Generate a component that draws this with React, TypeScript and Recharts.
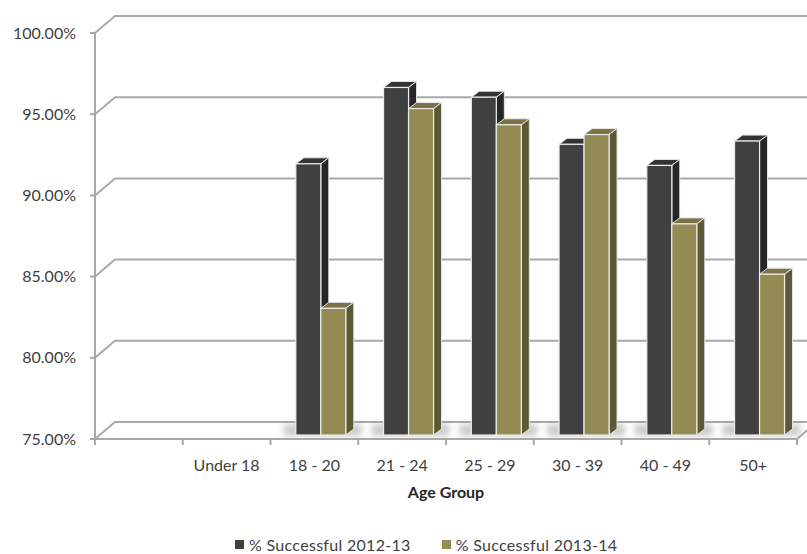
import React from "react"
import { BarChart, Bar, XAxis, YAxis, CartesianGrid } from "recharts"

// Age groups along the floor; the first slot is an empty spacer category
const categories = ["", "Under 18", "18 - 20", "21 - 24", "25 - 29", "30 - 39", "40 - 49", "50+"]
const success2012 = [null, null, 91.7, 96.4, 95.8, 92.9, 91.6, 93.1]
const success2013 = [null, null, 82.8, 95.1, 94.1, 93.5, 88.0, 84.9]
const yTicks = [75, 80, 85, 90, 95, 100]

const SERIES = [
  { key: "s2012", name: "% Successful 2012-13", front: "#404040", side: "#262626", top: "#333333" },
  { key: "s2013", name: "% Successful 2013-14", front: "#948a54", side: "#5e5835", top: "#7b7245" },
]

const W = 807
const H = 554
const PLOT_LEFT = 95
const PLOT_RIGHT = 797
const BAND = (PLOT_RIGHT - PLOT_LEFT) / categories.length

// perspective: back wall offset, bar depth and bar placement inside the box
const WALL_DX = 20
const WALL_DY = -17
const DEPTH_X = 8
const DEPTH_Y = -6
const SHIFT_X = 6
const SHIFT_Y = -4

const GRID = "#a9a9a9"
const FONT = "Lato, 'Open Sans', sans-serif"
const TEXT = "#404040"

const data = categories.map((c, i) => ({
  category: c,
  s2012: success2012[i],
  s2013: success2013[i],
}))

function wallLine(props: any) {
  const { x1, x2, y1, key } = props
  const d = `M${x1},${y1} L${x1 + WALL_DX},${y1 + WALL_DY} L${x2 + WALL_DX},${y1 + WALL_DY}`
  return <path key={key} d={d} fill="none" stroke={GRID} strokeWidth={2} />
}

function makeBar(s: (typeof SERIES)[number], withShadow: boolean) {
  return (props: any) => {
    const { x, y, width, height } = props
    if (height == null || height <= 0) return <g />
    const fx = x + SHIFT_X
    const fy = y + SHIFT_Y
    const bottom = fy + height
    return (
      <g>
        {withShadow && (
          <rect
            x={fx - 12}
            y={bottom - 11}
            width={width * 2 + 28}
            height={12}
            fill="#9a9a9a"
            opacity={0.5}
            filter="url(#floorBlur)"
          />
        )}
        <polygon
          points={`${fx},${fy} ${fx + DEPTH_X},${fy + DEPTH_Y} ${fx + width + DEPTH_X},${fy + DEPTH_Y} ${fx + width},${fy}`}
          fill={s.top}
          stroke="#e6e6e6"
          strokeWidth={1}
        />
        <polygon
          points={`${fx + width},${fy} ${fx + width + DEPTH_X},${fy + DEPTH_Y} ${fx + width + DEPTH_X},${bottom + DEPTH_Y} ${fx + width},${bottom}`}
          fill={s.side}
          stroke="#e6e6e6"
          strokeWidth={1}
        />
        <rect x={fx} y={fy} width={width} height={height} fill={s.front} stroke="#ececec" strokeWidth={1.2} />
      </g>
    )
  }
}

function CategoryTick(props: any) {
  const { x, y, payload, index } = props
  const left = x - BAND / 2
  const right = x + BAND / 2
  const last = index === categories.length - 1
  return (
    <g>
      <line x1={left} y1={y} x2={left} y2={y + 6} stroke={GRID} strokeWidth={2} />
      {last && <line x1={right} y1={y} x2={right} y2={y + 6} stroke={GRID} strokeWidth={2} />}
      {last && (
        <line x1={right} y1={y} x2={right + WALL_DX} y2={y + WALL_DY} stroke={GRID} strokeWidth={2} />
      )}
      <text x={x} y={y + 32} textAnchor="middle" fontFamily={FONT} fontSize={16} fill={TEXT}>
        {payload.value}
      </text>
    </g>
  )
}

function Legend3D() {
  return (
    <div
      style={{
        position: "absolute",
        left: 235,
        top: 535,
        display: "flex",
        gap: 31,
        fontFamily: FONT,
        fontSize: 16,
        letterSpacing: 0.3,
        color: TEXT,
        whiteSpace: "nowrap",
      }}
    >
      {SERIES.map((s) => (
        <div key={s.key} style={{ display: "flex", alignItems: "center", gap: 5 }}>
          <span style={{ width: 9, height: 9, background: s.front, display: "inline-block" }} />
          <span>{s.name}</span>
        </div>
      ))}
    </div>
  )
}

export default function App() {
  return (
    <div style={{ position: "absolute", left: 0, top: 0, width: W, height: H, background: "#fff", overflow: "hidden" }}>
      <BarChart
        width={W}
        height={H}
        data={data}
        margin={{ top: 33, right: W - PLOT_RIGHT, bottom: 55, left: 0 }}
        barCategoryGap="22%"
        barGap={0}
      >
        <defs>
          <filter id="floorBlur" x="-30%" y="-100%" width="160%" height="300%">
            <feGaussianBlur stdDeviation="3" />
          </filter>
        </defs>
        <CartesianGrid vertical={false} horizontal={wallLine} />
        <YAxis
          width={PLOT_LEFT}
          domain={[75, 100]}
          ticks={yTicks}
          allowDataOverflow
          tickFormatter={(v: number) => `${v.toFixed(2)}%`}
          axisLine={{ stroke: GRID, strokeWidth: 2 }}
          tickLine={{ stroke: GRID, strokeWidth: 2 }}
          tickSize={5}
          tickMargin={14}
          tick={{ fontFamily: FONT, fontSize: 16, fill: TEXT }}
        />
        <XAxis
          dataKey="category"
          height={60}
          interval={0}
          axisLine={{ stroke: GRID, strokeWidth: 2 }}
          tickLine={false}
          tickSize={0}
          tickMargin={0}
          tick={<CategoryTick />}
          label={{
            content: (p: any) => (
              <text
                x={p.viewBox.x + p.viewBox.width / 2}
                y={p.viewBox.y + 59}
                textAnchor="middle"
                fontFamily={FONT}
                fontSize={16}
                fontWeight={700}
                fill="#262626"
              >
                Age Group
              </text>
            ),
          }}
        />
        <Bar dataKey="s2012" name={SERIES[0].name} fill={SERIES[0].front} shape={makeBar(SERIES[0], true)} isAnimationActive={false} />
        <Bar dataKey="s2013" name={SERIES[1].name} fill={SERIES[1].front} shape={makeBar(SERIES[1], false)} isAnimationActive={false} />
      </BarChart>
      <Legend3D />
    </div>
  )
}
